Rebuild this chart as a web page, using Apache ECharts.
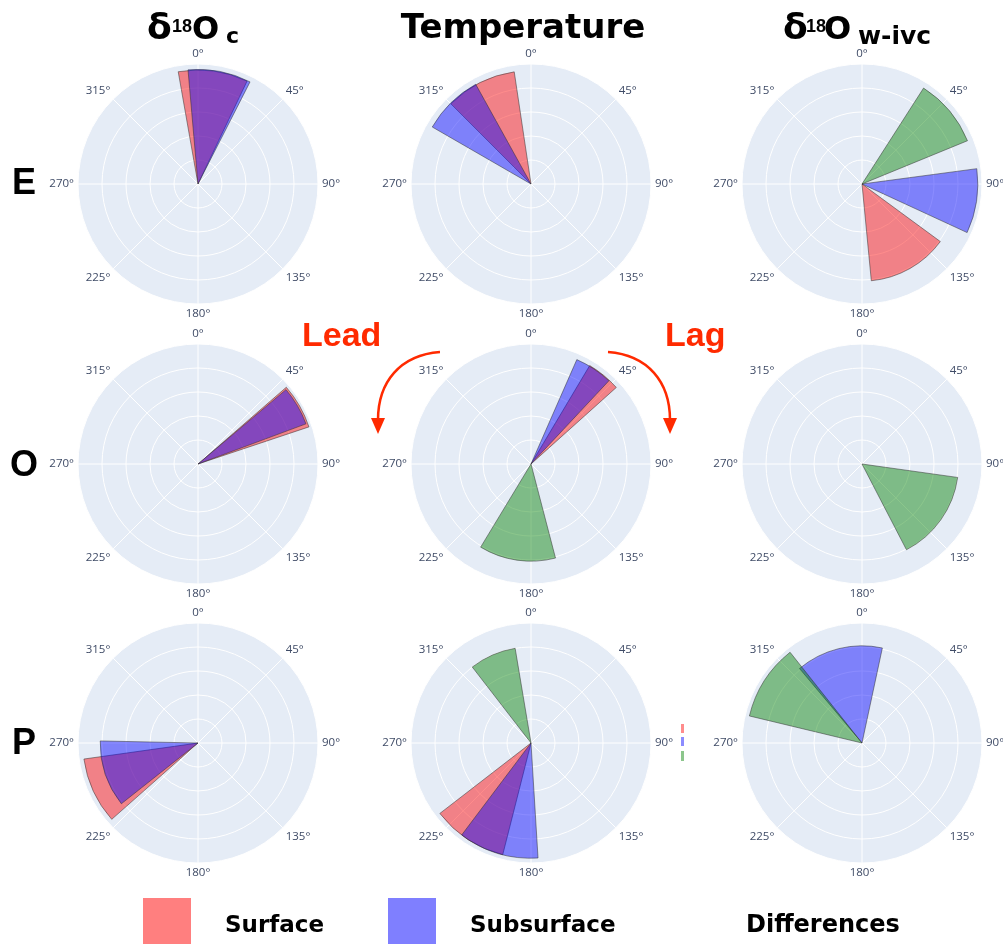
<!DOCTYPE html>
<html>
<head>
<meta charset="utf-8">
<script src="https://cdn.jsdelivr.net/npm/echarts@6/dist/echarts.min.js"></script>
<style>
  html, body { margin: 0; padding: 0; background: #fff; }
  #chart { width: 1003px; height: 949px; }
</style>
</head>
<body>
<div id="chart"></div>
<script>
// Column headings (split into glyph runs for super/subscripts) and row labels
const titleParts = [['δ', '18', 'O', 'c'], ['Temperature'], ['δ', '18', 'O', 'w-ivc']];
const rowLabels = ['E', 'O', 'P'];
const seriesNames = ['Surface', 'Subsurface', 'Differences'];

// Each entry: [length, fromDeg, toDeg] for the column δ18Oc, Temperature, δ18Ow-ivc; null = none
const surfaceE     = [[0.95, 350, 25.5], [0.945, 315, 351.5], [0.81, 126.3, 174.5]];
const subsurfaceE  = [[0.955, 355, 27], [0.95, 300, 331], [0.965, 82.4, 114.8]];
const differencesE = [null, null, [0.95, 32.7, 67.7]];

const surfaceO     = [[0.975, 49, 71.5], [0.955, 30.8, 48.1], null];
const subsurfaceO  = [[0.96, 49.8, 69.6], [0.95, 23.7, 43.1], null];
const differencesO = [null, [0.81, 165.4, 211.2], [0.805, 98, 152.6]];

const surfaceP     = [[0.96, 228.5, 262], [0.96, 194.2, 232.3], null];
const subsurfaceP  = [[0.815, 231.6, 271.2], [0.96, 176.5, 217], [0.81, 320, 12.1]];
const differencesP = [null, [0.80, 322.3, 350.5], [0.965, 283.5, 321.6]];

const rows = [
  [surfaceE, subsurfaceE, differencesE],
  [surfaceO, subsurfaceO, differencesO],
  [surfaceP, subsurfaceP, differencesP]
];

const fills = ['rgba(255,0,0,0.45)', 'rgba(0,0,255,0.45)', 'rgba(0,128,0,0.45)'];
const colX = [198, 531, 862];
const rowY = [184, 464, 743];
const R = 120;

// Wedge from the pole out to `length`, spanning fromDeg -> toDeg clockwise
function sectorItem(fill) {
  return function (params, api) {
    const len = api.value(0);
    const a0 = ((api.value(1) % 360) + 360) % 360;
    const a1 = ((api.value(2) % 360) + 360) % 360;
    const c = api.coord([0, 0]);
    const p0 = api.coord([len, a0]);
    const p1 = api.coord([len, a1]);
    const r = Math.hypot(p0[0] - c[0], p0[1] - c[1]);
    const s = Math.atan2(p0[1] - c[1], p0[0] - c[0]);
    let e = Math.atan2(p1[1] - c[1], p1[0] - c[0]);
    while (e <= s) e += Math.PI * 2;
    return {
      type: 'sector',
      shape: { cx: c[0], cy: c[1], r0: 0, r: r, startAngle: s, endAngle: e, clockwise: true },
      style: { fill: fill, stroke: 'rgba(45,45,45,0.5)', lineWidth: 1 }
    };
  };
}

const polar = [], angleAxis = [], radiusAxis = [], series = [];
const discs = [];
rows.forEach((rowSeries, ri) => {
  for (let ci = 0; ci < 3; ci++) {
    const idx = ri * 3 + ci;
    polar.push({ center: [colX[ci], rowY[ri]], radius: R });
    // plot-area fill behind the grid
    discs.push({
      type: 'circle', z: 0, silent: true,
      shape: { cx: colX[ci], cy: rowY[ri], r: R },
      style: { fill: '#E5ECF6' }
    });
    angleAxis.push({
      polarIndex: idx, type: 'value', min: 0, max: 360, interval: 45,
      startAngle: 90, clockwise: true, z: 1,
      axisLine: { show: false }, axisTick: { show: false },
      splitLine: { show: true, lineStyle: { color: '#ffffff', width: 1 } },
      axisLabel: {
        margin: 4, color: '#3f4b66', fontSize: 11.5, fontFamily: 'Open Sans',
        formatter: v => (v >= 360 ? '' : v + '°')
      }
    });
    radiusAxis.push({
      polarIndex: idx, type: 'value', min: 0, max: 1, interval: 0.2, z: 1,
      axisLine: { show: false }, axisTick: { show: false }, axisLabel: { show: false },
      splitLine: { show: true, lineStyle: { color: '#ffffff', width: 1 } },
      splitArea: { show: false }
    });
    rowSeries.forEach((arr, si) => {
      const item = arr[ci];
      if (!item) return;
      series.push({
        type: 'custom', name: seriesNames[si], coordinateSystem: 'polar', polarIndex: idx,
        renderItem: sectorItem(fills[si]), data: [item], z: 3 + si, silent: true
      });
    });
  }
});

function txt(x, y, text, font, fill, align) {
  return {
    type: 'text', x: x, y: y, z: 10,
    style: { text: text, font: font, fill: fill || '#000', align: align || 'left', verticalAlign: 'middle' }
  };
}

const DJ = '"DejaVu Sans"';
const LB = '"Liberation Sans"';
const red = '#ff2a00';

const graphics = discs.concat([
  // column headings
  txt(147, 30, titleParts[0][0], 'bold 36px ' + DJ),
  txt(172, 27, titleParts[0][1], 'bold 18px ' + LB),
  txt(192, 31, titleParts[0][2], 'bold 32px ' + DJ),
  txt(226, 37, titleParts[0][3], 'bold 22px ' + DJ),
  txt(523, 29, titleParts[1][0], 'bold 34px ' + DJ, '#000', 'center'),
  txt(783, 30, titleParts[2][0], 'bold 36px ' + DJ),
  txt(806, 27, titleParts[2][1], 'bold 18px ' + LB),
  txt(824, 31, titleParts[2][2], 'bold 32px ' + DJ),
  txt(858, 37, titleParts[2][3], 'bold 25px ' + DJ),
  // row labels
  txt(12, 184, rowLabels[0], 'bold 36px ' + LB),
  txt(10, 466, rowLabels[1], 'bold 36px ' + LB),
  txt(12, 744, rowLabels[2], 'bold 36px ' + LB),
  // lead / lag annotation
  txt(302, 337, 'Lead', 'bold 34px ' + LB, red),
  txt(665, 337, 'Lag', 'bold 34px ' + LB, red),
  {
    type: 'bezierCurve', z: 10,
    shape: { x1: 440, y1: 352, cpx1: 400, cpy1: 355, cpx2: 378, cpy2: 382, x2: 378, y2: 420 },
    style: { stroke: red, lineWidth: 2.5, fill: null }
  },
  { type: 'polygon', z: 10, shape: { points: [[371, 418], [385, 418], [378, 434]] }, style: { fill: red } },
  {
    type: 'bezierCurve', z: 10,
    shape: { x1: 608, y1: 352, cpx1: 648, cpy1: 355, cpx2: 670, cpy2: 382, x2: 670, y2: 420 },
    style: { stroke: red, lineWidth: 2.5, fill: null }
  },
  { type: 'polygon', z: 10, shape: { points: [[663, 418], [677, 418], [670, 434]] }, style: { fill: red } },
  // clipped trace keys beside the middle bottom panel
  { type: 'rect', z: 10, shape: { x: 681, y: 724, width: 3, height: 9 }, style: { fill: fills[0] } },
  { type: 'rect', z: 10, shape: { x: 681, y: 737, width: 3, height: 9 }, style: { fill: fills[1] } },
  { type: 'rect', z: 10, shape: { x: 681, y: 751, width: 3, height: 10 }, style: { fill: fills[2] } },
  // bottom key
  { type: 'rect', z: 10, shape: { x: 143, y: 898, width: 48, height: 46 }, style: { fill: '#ff7f7f' } },
  { type: 'rect', z: 10, shape: { x: 388, y: 898, width: 48, height: 46 }, style: { fill: '#7f7fff' } },
  txt(225, 926, seriesNames[0], 'bold 23px ' + DJ),
  txt(470, 926, seriesNames[1], 'bold 23px ' + DJ),
  txt(746, 926, seriesNames[2], 'bold 24px ' + DJ)
]);

const chart = echarts.init(document.getElementById('chart'), null, { renderer: 'canvas' });
chart.setOption({
  animation: false,
  backgroundColor: '#ffffff',
  polar: polar,
  angleAxis: angleAxis,
  radiusAxis: radiusAxis,
  series: series,
  graphic: { elements: graphics }
});
</script>
</body>
</html>
